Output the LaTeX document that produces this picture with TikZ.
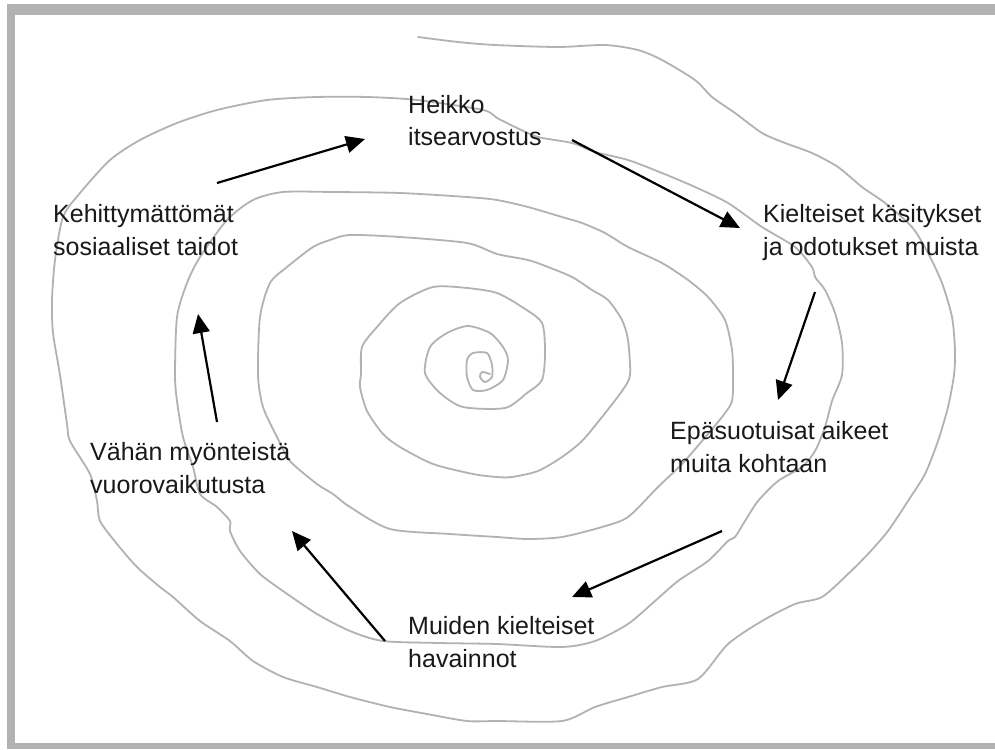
\documentclass[tikz,border=0pt]{standalone}
\usepackage{fontspec}
\setmainfont{Liberation Sans}
\usetikzlibrary{arrows.meta}

\tikzset{
    spiral/.style={draw=gray!60, line width=1.8pt, line join=round, line cap=round},
    label/.style={anchor=base west, align=left, inner sep=0pt,
        font=\fontsize{25}{32.5}\selectfont, text=black!90},
    cyclearrow/.style={line width=2.2pt, -{Triangle[length=19pt, width=17pt]}}
}

\begin{document}
\begin{tikzpicture}[x=1pt, y=-1pt]
    \useasboundingbox (0,0) rectangle (995,749);

    % Frame
    \fill[gray!60] (7,4) rectangle (995,749);
    \fill[white] (15,15) rectangle (995,743);

    % Spiral
    \draw[spiral] plot[smooth, tension=0.45] coordinates {
        (418,37) (458,42) (495,45) (558,47) (605,45) (638,50) (662,60) (695,80)
        (712,97) (735,113) (762,133) (785,143) (812,153) (838,167) (862,187)
        (885,203) (912,227) (928,253) (942,283) (952,317) (955,350) (954,375)
        (948,407) (938,441) (925,474) (908,501) (888,531) (868,554) (848,574)
        (822,597) (795,604) (762,621) (728,644) (698,679) (662,687) (628,697)
        (595,707) (562,721) (497,721) (467,721) (427,714) (390,707) (350,697)
        (317,687) (283,677) (253,661) (230,641) (200,621) (173,597) (160,587)
        (137,567) (117,544) (100,521) (97,501) (90,474) (70,441) (67,424)
        (60,375) (53,333) (52,300) (55,260) (63,217) (80,193) (110,160)
        (140,140) (177,123) (217,110) (267,100) (317,97) (367,97) (417,100)
        (483,110) (497,118) (515,127) (538,137) (572,143) (595,152) (628,160)
        (662,173) (695,187) (728,203) (762,227) (795,247) (812,267) (815,277)
        (825,290) (835,313) (842,343) (842,375) (832,401) (825,427) (815,451)
        (802,467) (778,481) (758,501) (745,521) (735,537) (728,541) (708,561)
        (678,581) (655,601) (628,624) (595,641) (562,647) (497,644) (440,643)
        (383,641) (350,631) (317,614) (283,591) (260,574) (240,551) (230,531)
        (230,521) (217,507) (200,494) (193,467) (183,437) (177,401) (175,375)
        (177,317) (187,283) (200,257) (227,220) (253,200) (283,192) (333,192)
        (400,193) (467,197) (497,200) (528,207) (562,217) (582,223) (605,233)
        (628,247) (662,263) (688,280) (708,297) (725,320) (732,350) (733,375)
        (732,401) (722,417) (702,441) (682,464) (658,487) (628,517) (602,527)
        (562,537) (528,539) (497,537) (450,534) (390,529) (350,507) (333,494)
        (317,484) (290,461) (277,437) (263,407) (258,375) (260,317) (270,283)
        (287,267) (313,247) (330,240) (350,235) (400,237) (467,243) (497,254)
        (528,260) (548,267) (572,277) (592,290) (608,300) (622,320) (628,340)
        (630,375) (622,391) (602,417) (582,441) (562,457) (538,471) (512,477)
        (497,477) (473,474) (433,464) (400,447) (383,434) (367,411) (360,387)
        (361,374) (362,347) (377,327) (400,303) (433,287) (467,288) (497,293)
        (522,307) (542,323) (545,353) (542,380) (527,393) (505,408) (463,407)
        (440,393) (425,373) (430,347) (447,333) (468,326) (490,333) (503,347)
        (508,360) (503,380) (487,390) (473,390) (467,377) (467,360) (473,353)
        (487,353) (492,365) (492,377) (485,382) (480,377) (482,372) (490,374)
    };

    % Labels (anchored at the baseline of the last line)
    \node[label] (selfesteem) at (408,146) {Heikko\\itsearvostus};
    \node[label] (beliefs)    at (763,255) {Kielteiset käsitykset\\ja odotukset muista};
    \node[label] (intents)    at (670,472) {Epäsuotuisat aikeet\\muita kohtaan};
    \node[label] (perceive)   at (408,667) {Muiden kielteiset\\havainnot};
    \node[label] (interact)   at (90,493)  {Vähän myönteistä\\vuorovaikutusta};
    \node[label] (skills)     at (53,255)  {Kehittymättömät\\sosiaaliset taidot};

    % Arrow ends
    \coordinate (a1) at (217,183); \coordinate (b1) at (365,139);
    \coordinate (a2) at (572,140); \coordinate (b2) at (740,228);
    \coordinate (a3) at (815,292); \coordinate (b3) at (778,400);
    \coordinate (a4) at (722,531); \coordinate (b4) at (572,597);
    \coordinate (a5) at (385,641); \coordinate (b5) at (292,531);
    \coordinate (a6) at (217,422); \coordinate (b6) at (198,314);

    % Arrows
    \foreach \i in {1,...,6}
        \draw[cyclearrow] (a\i) -- (b\i);
\end{tikzpicture}
\end{document}
